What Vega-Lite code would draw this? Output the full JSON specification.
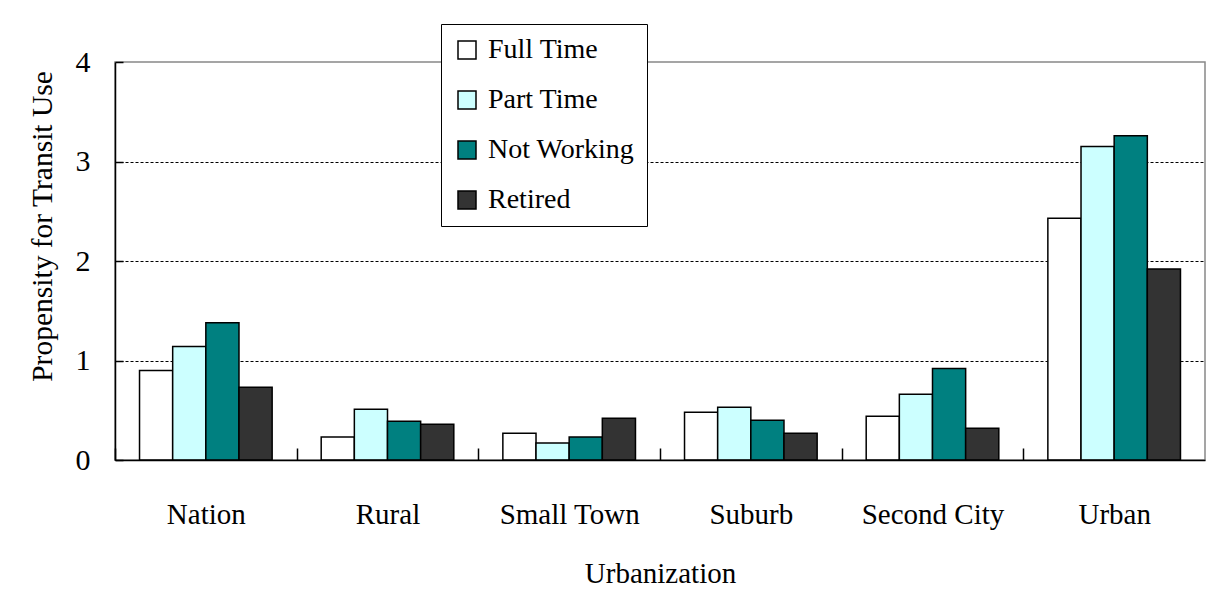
{
  "$schema": "https://vega.github.io/schema/vega-lite/v6.json",
  "width": 1090,
  "height": 398,
  "autosize": {"type": "none"},
  "padding": {"left": 115, "top": 62, "right": 23, "bottom": 143},
  "background": "white",
  "config": {
    "view": {"stroke": "#888888", "strokeWidth": 1.5},
    "font": "Liberation Serif"
  },
  "data": {
    "values": [
      {"area": "Nation", "status": "Full Time", "value": 0.90},
      {"area": "Nation", "status": "Part Time", "value": 1.14},
      {"area": "Nation", "status": "Not Working", "value": 1.38},
      {"area": "Nation", "status": "Retired", "value": 0.73},
      {"area": "Rural", "status": "Full Time", "value": 0.23},
      {"area": "Rural", "status": "Part Time", "value": 0.51},
      {"area": "Rural", "status": "Not Working", "value": 0.39},
      {"area": "Rural", "status": "Retired", "value": 0.36},
      {"area": "Small Town", "status": "Full Time", "value": 0.27},
      {"area": "Small Town", "status": "Part Time", "value": 0.17},
      {"area": "Small Town", "status": "Not Working", "value": 0.23},
      {"area": "Small Town", "status": "Retired", "value": 0.42},
      {"area": "Suburb", "status": "Full Time", "value": 0.48},
      {"area": "Suburb", "status": "Part Time", "value": 0.53},
      {"area": "Suburb", "status": "Not Working", "value": 0.40},
      {"area": "Suburb", "status": "Retired", "value": 0.27},
      {"area": "Second City", "status": "Full Time", "value": 0.44},
      {"area": "Second City", "status": "Part Time", "value": 0.66},
      {"area": "Second City", "status": "Not Working", "value": 0.92},
      {"area": "Second City", "status": "Retired", "value": 0.32},
      {"area": "Urban", "status": "Full Time", "value": 2.43},
      {"area": "Urban", "status": "Part Time", "value": 3.15},
      {"area": "Urban", "status": "Not Working", "value": 3.26},
      {"area": "Urban", "status": "Retired", "value": 1.92}
    ]
  },
  "mark": {"type": "bar", "stroke": "black", "strokeWidth": 1.5},
  "encoding": {
    "x": {
      "field": "area",
      "type": "nominal",
      "sort": ["Nation", "Rural", "Small Town", "Suburb", "Second City", "Urban"],
      "scale": {"paddingInner": 0.27, "paddingOuter": 0.135},
      "axis": {
        "title": "Urbanization",
        "titleFont": "Liberation Serif",
        "titleFontSize": 29,
        "titleFontWeight": "normal",
        "titleColor": "black",
        "titlePadding": 30,
        "labelAngle": 0,
        "labelFont": "Liberation Serif",
        "labelFontSize": 29,
        "labelColor": "black",
        "labelPadding": 52,
        "labelOffset": 90.83,
        "domainColor": "black",
        "domainWidth": 1.5,
        "tickColor": "black",
        "tickWidth": 1.5,
        "tickOffset": -90.83,
        "tickSize": -12,
        "zindex": 1
      }
    },
    "xOffset": {
      "field": "status",
      "type": "nominal",
      "sort": ["Full Time", "Part Time", "Not Working", "Retired"],
      "scale": {"paddingInner": 0, "paddingOuter": 0}
    },
    "y": {
      "field": "value",
      "type": "quantitative",
      "scale": {"domain": [0, 4], "nice": false},
      "axis": {
        "title": "Propensity for Transit Use",
        "titleFont": "Liberation Serif",
        "titleFontSize": 29.5,
        "titleFontWeight": "normal",
        "titleColor": "black",
        "titleX": -58,
        "titleY": 164,
        "titleAngle": -90,
        "titleAlign": "center",
        "titleBaseline": "bottom",
        "values": [0, 1, 2, 3, 4],
        "labelFont": "Liberation Serif",
        "labelFontSize": 30,
        "labelColor": "black",
        "labelPadding": 33,
        "domainColor": "black",
        "domainWidth": 1.5,
        "tickColor": "black",
        "tickWidth": 1.5,
        "tickSize": -8,
        "grid": true,
        "gridColor": "black",
        "gridDash": [3, 2],
        "gridWidth": 1,
        "gridOpacity": {"condition": {"test": "datum.value === 4 || datum.value === 0", "value": 0}, "value": 1}
      }
    },
    "fill": {
      "field": "status",
      "type": "nominal",
      "sort": ["Full Time", "Part Time", "Not Working", "Retired"],
      "scale": {
        "domain": ["Full Time", "Part Time", "Not Working", "Retired"],
        "range": ["#FFFFFF", "#CCFFFF", "#008080", "#333333"]
      },
      "legend": {
        "title": null,
        "orient": "none",
        "legendX": 326,
        "legendY": -38,
        "fillColor": "white",
        "strokeColor": "black",
        "padding": 12,
        "symbolType": "square",
        "symbolSize": 324,
        "symbolStrokeColor": "black",
        "symbolStrokeWidth": 1.5,
        "symbolOpacity": 1,
        "labelFont": "Liberation Serif",
        "labelFontSize": 28,
        "labelColor": "black",
        "labelOffset": 7,
        "labelLimit": 300,
        "rowPadding": 22
      }
    }
  }
}
